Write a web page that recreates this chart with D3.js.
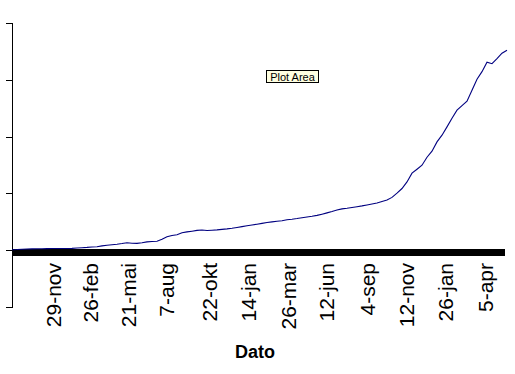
<!DOCTYPE html>
<html><head><meta charset="utf-8">
<script src="https://cdn.jsdelivr.net/npm/d3@7"></script>
<style>html,body{margin:0;padding:0;background:#fff;}svg{display:block;}</style>
</head><body>
<svg id="c" width="515" height="374"></svg>
<script>
const values = [0.9,1.2,1.8,2.1,2.3,2.5,2.6,2.8,3.0,3.0,3.0,3.0,3.2,4.0,4.4,4.9,5.6,6.2,7.6,8.8,
9.7,10.6,11.8,13.2,12.3,12.0,13.2,14.6,15.3,15.8,19.4,23.8,25.9,27.3,30.8,32.2,33.5,34.9,35.6,34.7,
35.2,35.7,36.6,37.5,38.7,40.1,41.5,43.0,44.4,45.8,47.2,48.8,49.8,50.9,51.9,53.7,54.6,55.8,57.2,58.5,
59.7,61.3,63.4,65.7,68.1,70.8,72.7,73.8,75.2,76.6,78.0,79.6,81.3,83.1,85.9,88.2,93.0,100.4,108.6,120.2,
135.6,142.6,149.6,163.7,174.3,190.7,202.5,217.1,232.4,246.5,254.4,262.3,281.7,301.1,314.3,331.0,328.3,337.2,346.8,352.1];
const tickLabels = ["29-nov","26-feb","21-mai","7-aug","22-okt","14-jan","26-mar","12-jun","4-sep","12-nov","26-jan","5-apr"];
const tickIndex = [8.3,15.7,23.4,31.0,39.6,47.4,55.3,63.0,71.2,78.9,86.8,94.7];
const yTicks = [-100,0,100,200,300,400];
const xTitle = "Dato";
const tipText = "Plot Area";

const svg = d3.select("#c");
const x = d3.scaleLinear().domain([0, 98]).range([12, 502]);
const y = d3.scaleLinear().domain([-100, 400]).range([307, 23]);

// y axis (no labels)
const yAxis = d3.axisLeft(y).tickValues(yTicks).tickSize(7).tickFormat("");
const gy = svg.append("g").attr("transform","translate(12.5,0)").call(yAxis);
gy.selectAll("path,line").attr("stroke","#000").attr("shape-rendering","crispEdges");
gy.select(".domain").attr("d", `M0,${y(400)}V${y(-100)}`);

// thick category axis at zero
const y0 = Math.round(y(0)) - 1;
svg.append("rect").attr("x", 12).attr("y", y0).attr("width", x(98.6) - 12).attr("height", 7).attr("fill","#000");

// tick labels
svg.append("g").selectAll("text").data(tickLabels).join("text")
  .attr("transform", (d,i) => `translate(${x(tickIndex[i])},263) rotate(-90)`)
  .attr("text-anchor","end").attr("dy","0.35em")
  .attr("font-family","Liberation Sans, Arial, sans-serif").attr("font-size","21px")
  .attr("fill","#000").text(d => d);

// series line
const line = d3.line().x((d,i) => x(i)).y(d => y(d));
svg.append("path").datum(values).attr("d", line).attr("fill","none")
  .attr("stroke","#000080").attr("stroke-width",1.1);

// axis title
svg.append("text").attr("x", 255).attr("y", 358).attr("text-anchor","middle")
  .attr("font-family","Liberation Sans, Arial, sans-serif").attr("font-weight","bold")
  .attr("font-size","18px").text(xTitle);

// tooltip
const tip = svg.append("g").attr("transform","translate(266.5,70.5)");
tip.append("rect").attr("width",52).attr("height",12).attr("fill","#ffffe1").attr("stroke","#000").attr("stroke-width",1);
tip.append("text").attr("x",26).attr("y",10).attr("text-anchor","middle")
  .attr("font-family","Liberation Sans, Arial, sans-serif").attr("font-size","11px").text(tipText);
</script>
</body></html>
